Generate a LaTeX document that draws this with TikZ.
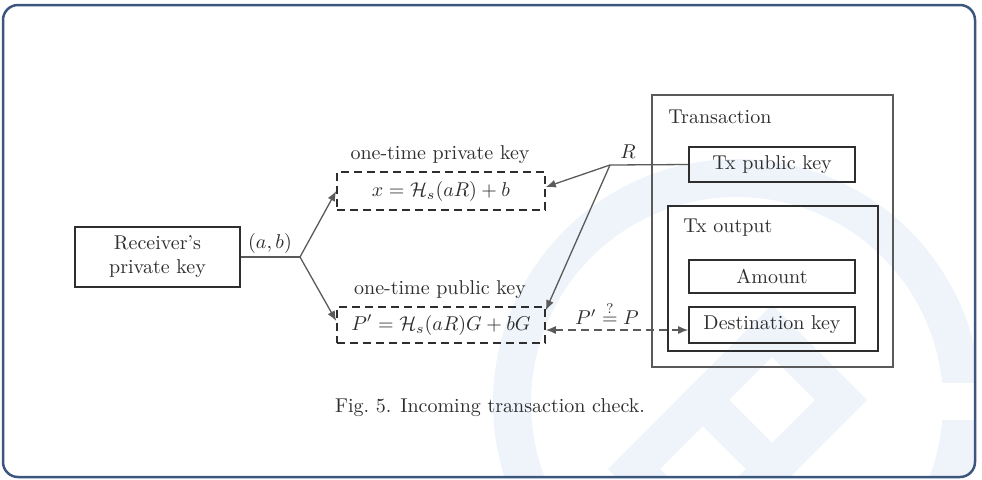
\documentclass[tikz,border=0pt]{standalone}
\usetikzlibrary{arrows.meta,calc}
\definecolor{framecol}{HTML}{3C567E}
\definecolor{wmcol}{HTML}{EEF4FA}
\definecolor{ink}{HTML}{2E2E2E}
\definecolor{linecol}{HTML}{5A5A5A}
\tikzset{
  box/.style={draw=ink, line width=0.8pt, inner sep=0pt, text=ink},
  dbox/.style={draw=ink, line width=0.8pt, dash pattern=on 4pt off 2.5pt, inner sep=0pt, text=ink},
  lbl/.style={text=ink, inner sep=0pt},
  conn/.style={draw=linecol, line width=0.65pt},
  tip/.tip={Latex[length=5pt,width=4pt]},
  arr/.style={conn, -tip},
}
\begin{document}
\begin{tikzpicture}[x=0.5pt,y=-0.5pt]
\useasboundingbox (0,0) rectangle (982,479);
% watermark
\begin{scope}
  \clip[rounded corners=7.5pt] (3,5) rectangle (975,477);
  \draw[wmcol, line width=19pt] (737,403) circle (112.5pt);
  \fill[white] (925,383) rectangle (990,420);
  \draw[wmcol, line width=18.5pt, line join=miter] (772,331) -- (841,400) -- (772,469) -- (703,400) -- cycle;
  \draw[wmcol, line width=18.5pt, line join=miter] (703,400) -- (772,469) -- (703,538) -- (634,469) -- cycle;
\end{scope}
% frame
\draw[framecol, line width=1.25pt, rounded corners=7.5pt] (3,5) rectangle (975,477);
% left part
\node[box, minimum width=82.5pt, minimum height=30pt, align=center] (recv) at (157.5,257) {Receiver's\\private key};
\node[dbox, minimum width=104pt, minimum height=19pt] (priv) at (441,191) {$x=\mathcal{H}_s(aR)+b$};
\node[dbox, minimum width=104pt, minimum height=18pt] (pub) at (441,325) {$P'=\mathcal{H}_s(aR)G+bG$};
\node[lbl] (privlbl) at (440,155) {one-time private key};
\node[lbl] (publbl) at (440,290) {one-time public key};
% transaction
\node[box, draw=linecol, minimum width=120.5pt, minimum height=136pt] (tx) at (772.5,231) {};
\node[lbl, anchor=west] (txlbl) at (668,117) {Transaction};
\node[box, minimum width=83pt, minimum height=17.5pt] (txpub) at (772,164.5) {Tx public key};
\node[box, minimum width=105pt, minimum height=72.5pt] (txout) at (773,278.5) {};
\node[lbl, anchor=west] (txoutlbl) at (683,228) {Tx output};
\node[box, minimum width=83pt, minimum height=16.5pt] (amt) at (772,276.5) {Amount};
\node[box, minimum width=83pt, minimum height=18pt] (dest) at (772,325) {Destination key};
% connectors
\coordinate (ab) at (300,257);
\coordinate (R) at (610,165);
\draw[conn] (recv.east) -- (ab);
\draw[arr] (ab) -- (priv.west);
\draw[arr] (ab) -- ([yshift=2pt]pub.west);
\node[lbl] (ablbl) at (270,243) {$(a,b)$};
\draw[conn] (txpub.west) -- (R);
\draw[arr] (R) -- ([yshift=2pt]priv.east);
\draw[arr] (R) -- ([yshift=-2pt]pub.north east);
\node[lbl] (Rlbl) at (628,152) {$R$};
\draw[conn, dash pattern=on 4pt off 2.5pt, tip-tip] ([yshift=-2.5pt]pub.east) -- ([yshift=-2.5pt]dest.west);
\node[lbl, anchor=south] (eq) at (607,325) {$P'\stackrel{?}{=}P$};
\node[lbl] (cap) at (490,408) {Fig.~5. Incoming transaction check.};
\end{tikzpicture}
\end{document}
